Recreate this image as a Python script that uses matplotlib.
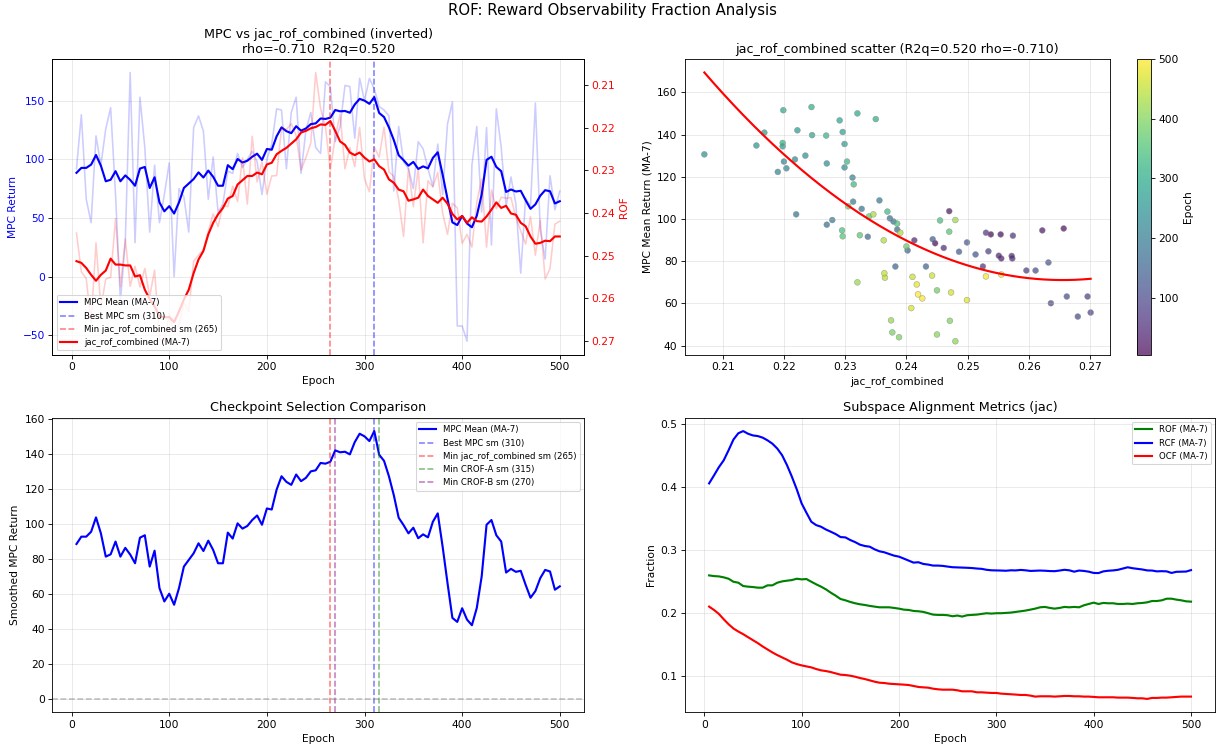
import matplotlib
matplotlib.use('Agg')
import matplotlib.pyplot as plt
import numpy as np

# epochs 5..500 step 5
epochs = list(range(5, 505, 5))

# raw MPC return per epoch
mpc_raw = [92, 138, 66, 46, 120, 95, 126, 144, 70, -21,
           30, 174, 29, 153, 110, 38, 95, 46, 70, 97,
           0, 75, 68, 38, 127, 137, 124, 66, 102, 55,
           62, 90, 88, 105, 93, 100, 107, 98, 70, 100,
           113, 143, 142, 92, 140, 153, 88, 125, 140, 110,
           105, 166, 162, 115, 128, 163, 162, 118, 169, 150,
           169, 160, 145, 142, 137, 73, 128, 98, 92, 75,
           115, 109, 92, 77, 113, 70, 130, 149, -42, -42,
           -55, 95, 128, 55, 127, 27, 143, 110, 60, 85,
           62, 3, 67, 60, 148, 40, 15, 86, 57, 73]

# MPC mean, moving average over 7
mpc_sm = [88.5, 92.7, 92.7, 95.5, 103.7, 94.6, 81.3, 82.6, 89.9, 81.3,
          86.3, 82.5, 77.5, 92.1, 93.5, 75.6, 84.7, 63.3, 55.7, 60.1,
          53.8, 63.3, 75.6, 79.4, 83.2, 88.9, 84.5, 90.4, 85.1, 77.5,
          77.5, 95.0, 91.6, 100.3, 97.3, 98.8, 102.2, 104.8, 99.5, 108.8,
          108.2, 119.6, 127.2, 124.0, 122.3, 128.2, 124.4, 126.3, 130.0, 130.6,
          134.8, 134.4, 135.5, 142.0, 140.9, 141.2, 139.7, 146.7, 151.5, 150.0,
          147.3, 153.0, 139.5, 136.0, 127.2, 116.4, 103.5, 99.3, 94.6, 97.8,
          91.8, 94.0, 92.3, 101.2, 106.0, 87.0, 66.2, 46.3, 44.0, 51.8,
          45.3, 42.1, 52.0, 70.0, 99.5, 102.2, 93.5, 89.9, 72.2, 74.3,
          72.6, 73.2, 65.2, 57.8, 61.6, 69.0, 73.7, 72.8, 62.4, 64.3]

# raw jac_rof_combined per epoch
rof_raw = [0.2447, 0.2538, 0.2554, 0.2657, 0.2470, 0.2622, 0.2555, 0.2551, 0.2413, 0.2573,
           0.2461, 0.2572, 0.2525, 0.2574, 0.2530, 0.2596, 0.2534, 0.2696, 0.2701, 0.2636,
           0.2680, 0.2662, 0.2611, 0.2632, 0.2513, 0.2499, 0.2486, 0.2443, 0.2402, 0.2432,
           0.2382, 0.2385, 0.2337, 0.2373, 0.2270, 0.2379, 0.2220, 0.2327, 0.2279, 0.2356,
           0.2313, 0.2312, 0.2200, 0.2204, 0.2190, 0.2218, 0.2299, 0.2270, 0.2235, 0.2070,
           0.2155, 0.2198, 0.2299, 0.2222, 0.2168, 0.2296, 0.2246, 0.2291, 0.2199, 0.2320,
           0.2350, 0.2245, 0.2269, 0.2198, 0.2303, 0.2314, 0.2369, 0.2455, 0.2295, 0.2385,
           0.2296, 0.2470, 0.2324, 0.2339, 0.2305, 0.2400, 0.2450, 0.2377, 0.2388, 0.2471,
           0.2450, 0.2480, 0.2375, 0.2320, 0.2480, 0.2346, 0.2390, 0.2363, 0.2365, 0.2364,
           0.2410, 0.2442, 0.2473, 0.2408, 0.2499, 0.2417, 0.2555, 0.2530, 0.2426, 0.2419]

# jac_rof_combined MA-7
rof_sm = [0.2513, 0.2517, 0.2529, 0.2545, 0.2559, 0.2545, 0.2535, 0.2507, 0.2521, 0.2521,
          0.2523, 0.2523, 0.2549, 0.2546, 0.2580, 0.2602, 0.2619, 0.2643, 0.2645, 0.2644,
          0.2656, 0.2631, 0.2603, 0.2580, 0.2541, 0.2509, 0.2489, 0.2450, 0.2423, 0.2403,
          0.2388, 0.2366, 0.2360, 0.2333, 0.2323, 0.2313, 0.2313, 0.2305, 0.2309, 0.2286,
          0.2282, 0.2262, 0.2254, 0.2247, 0.2237, 0.2227, 0.2211, 0.2207, 0.2201, 0.2198,
          0.2192, 0.2193, 0.2184, 0.2207, 0.2232, 0.2240, 0.2258, 0.2264, 0.2258, 0.2270,
          0.2279, 0.2274, 0.2290, 0.2298, 0.2321, 0.2329, 0.2345, 0.2349, 0.2371, 0.2368,
          0.2364, 0.2345, 0.2360, 0.2368, 0.2376, 0.2364, 0.2378, 0.2402, 0.2415, 0.2407,
          0.2423, 0.2410, 0.2419, 0.2420, 0.2408, 0.2392, 0.2375, 0.2388, 0.2383, 0.2401,
          0.2404, 0.2423, 0.2431, 0.2455, 0.2472, 0.2470, 0.2465, 0.2466, 0.2455, 0.2455]

# subspace alignment metrics (MA-7)
rof_ma = [0.2591, 0.2580, 0.2575, 0.2560, 0.2538, 0.2490, 0.2475, 0.2422, 0.2412, 0.2406,
          0.2396, 0.2396, 0.2433, 0.2433, 0.2475, 0.2496, 0.2507, 0.2517, 0.2538, 0.2528,
          0.2533, 0.2490, 0.2449, 0.2412, 0.2369, 0.2316, 0.2269, 0.2216, 0.2195, 0.2169,
          0.2148, 0.2132, 0.2121, 0.2106, 0.2095, 0.2084, 0.2084, 0.2084, 0.2074, 0.2063,
          0.2047, 0.2042, 0.2026, 0.2021, 0.2011, 0.1990, 0.1968, 0.1963, 0.1963, 0.1958,
          0.1942, 0.1953, 0.1937, 0.1958, 0.1963, 0.1968, 0.1979, 0.1990, 0.1984, 0.1990,
          0.1990, 0.1995, 0.2000, 0.2011, 0.2021, 0.2032, 0.2047, 0.2063, 0.2084, 0.2090,
          0.2074, 0.2063, 0.2074, 0.2090, 0.2084, 0.2090, 0.2084, 0.2116, 0.2137, 0.2158,
          0.2137, 0.2153, 0.2148, 0.2148, 0.2137, 0.2137, 0.2142, 0.2137, 0.2148, 0.2153,
          0.2163, 0.2184, 0.2184, 0.2195, 0.2221, 0.2221, 0.2206, 0.2195, 0.2179, 0.2174]

rcf_ma = [0.4053, 0.4180, 0.4310, 0.4420, 0.4580, 0.4750, 0.4850, 0.4884, 0.4842, 0.4815,
          0.4805, 0.4780, 0.4737, 0.4684, 0.4607, 0.4500, 0.4343, 0.4160, 0.3960, 0.3736,
          0.3586, 0.3443, 0.3390, 0.3364, 0.3320, 0.3285, 0.3248, 0.3200, 0.3195, 0.3153,
          0.3120, 0.3079, 0.3058, 0.3047, 0.3005, 0.2974, 0.2958, 0.2931, 0.2905, 0.2889,
          0.2858, 0.2826, 0.2794, 0.2800, 0.2773, 0.2763, 0.2747, 0.2747, 0.2742, 0.2731,
          0.2721, 0.2718, 0.2715, 0.2712, 0.2708, 0.2700, 0.2695, 0.2680, 0.2672, 0.2670,
          0.2668, 0.2665, 0.2672, 0.2670, 0.2678, 0.2672, 0.2662, 0.2665, 0.2668, 0.2665,
          0.2660, 0.2658, 0.2668, 0.2680, 0.2672, 0.2650, 0.2668, 0.2662, 0.2650, 0.2630,
          0.2628, 0.2655, 0.2665, 0.2670, 0.2680, 0.2700, 0.2720, 0.2705, 0.2695, 0.2685,
          0.2670, 0.2668, 0.2655, 0.2658, 0.2655, 0.2630, 0.2648, 0.2650, 0.2652, 0.2675]

ocf_ma = [0.2095, 0.2042, 0.1979, 0.1894, 0.1815, 0.1747, 0.1699, 0.1657, 0.1609, 0.1562,
          0.1515, 0.1462, 0.1414, 0.1367, 0.1325, 0.1288, 0.1251, 0.1209, 0.1182, 0.1161,
          0.1145, 0.1129, 0.1103, 0.1082, 0.1071, 0.1055, 0.1034, 0.1013, 0.1008, 0.0997,
          0.0981, 0.0960, 0.0944, 0.0923, 0.0902, 0.0886, 0.0881, 0.0870, 0.0865, 0.0860,
          0.0855, 0.0849, 0.0834, 0.0818, 0.0812, 0.0807, 0.0791, 0.0781, 0.0775, 0.0775,
          0.0775, 0.0765, 0.0749, 0.0749, 0.0749, 0.0733, 0.0733, 0.0728, 0.0723, 0.0723,
          0.0712, 0.0707, 0.0702, 0.0697, 0.0691, 0.0691, 0.0681, 0.0665, 0.0670, 0.0670,
          0.0670, 0.0665, 0.0670, 0.0675, 0.0675, 0.0670, 0.0670, 0.0665, 0.0665, 0.0660,
          0.0654, 0.0654, 0.0654, 0.0654, 0.0649, 0.0649, 0.0649, 0.0644, 0.0638, 0.0638,
          0.0628, 0.0644, 0.0644, 0.0649, 0.0649, 0.0654, 0.0660, 0.0665, 0.0665, 0.0665]

best_mpc = 310
min_rof = 265
min_crof_a = 315
min_crof_b = 270
rho = -0.710
r2q = 0.520

# 16 x 9.81 in figure, shrunk to 1225x751 px
DPI = 76.5625
fig = plt.figure(figsize=(16, 9.809), dpi=DPI)
fig.suptitle("ROF: Reward Observability Fraction Analysis", fontsize=14, y=0.996)

ax1 = fig.add_axes([0.0427, 0.5277, 0.434, 0.3937])
ax_sc = fig.add_axes([0.5592, 0.5277, 0.3469, 0.3937])
cax = fig.add_axes([0.9279, 0.5277, 0.0117, 0.3937])
ax3 = fig.add_axes([0.0427, 0.0515, 0.434, 0.3923])
ax4 = fig.add_axes([0.5592, 0.0515, 0.4327, 0.3923])

# --- top left: MPC vs ROF (inverted)
ax1.plot(epochs, mpc_raw, color="blue", alpha=0.2, lw=1.5)
l1, = ax1.plot(epochs, mpc_sm, color="blue", lw=2, label="MPC Mean (MA-7)")
l2 = ax1.axvline(best_mpc, color="blue", ls="--", alpha=0.5, label=f"Best MPC sm ({best_mpc})")
l3 = ax1.axvline(min_rof, color="red", ls="--", alpha=0.5, label=f"Min jac_rof_combined sm ({min_rof})")
ax1.set_ylabel("MPC Return", color="blue")
ax1.tick_params(axis="y", labelcolor="blue")
ax1.set_xlabel("Epoch")
ax1.grid(True, alpha=0.3)

ax2 = ax1.twinx()
ax2.plot(epochs, rof_raw, color="red", alpha=0.2, lw=1.5)
l4, = ax2.plot(epochs, rof_sm, color="red", lw=2, label="jac_rof_combined (MA-7)")
ax2.invert_yaxis()
ax2.set_ylabel("ROF", color="red")
ax2.tick_params(axis="y", labelcolor="red")
ax2.legend([l1, l2, l3, l4], [h.get_label() for h in [l1, l2, l3, l4]], loc="lower left", fontsize=8)
ax1.set_title(f"MPC vs jac_rof_combined (inverted)\nrho={rho:.3f}  R2q={r2q:.3f}")

# --- top right: scatter
sc = ax_sc.scatter(rof_raw, mpc_sm, c=epochs, cmap="viridis", alpha=0.7, s=30,
                   edgecolors="gray", linewidths=0.5)
coef = np.polyfit(rof_raw, mpc_sm, 2)
xs = np.linspace(min(rof_raw), max(rof_raw), 200)
ax_sc.plot(xs, np.polyval(coef, xs), color="red", lw=2)
ax_sc.set_xlabel("jac_rof_combined")
ax_sc.set_ylabel("MPC Mean Return (MA-7)")
ax_sc.set_title(f"jac_rof_combined scatter (R2q={r2q:.3f} rho={rho:.3f})")
ax_sc.grid(True, alpha=0.3)
cb = fig.colorbar(sc, cax=cax)
cb.set_label("Epoch")

# --- bottom left: checkpoint selection
ax3.plot(epochs, mpc_sm, color="blue", lw=2, label="MPC Mean (MA-7)")
ax3.axvline(best_mpc, color="blue", ls="--", alpha=0.5, label=f"Best MPC sm ({best_mpc})")
ax3.axvline(min_rof, color="red", ls="--", alpha=0.5, label=f"Min jac_rof_combined sm ({min_rof})")
ax3.axvline(min_crof_a, color="green", ls="--", alpha=0.5, label=f"Min CROF-A sm ({min_crof_a})")
ax3.axvline(min_crof_b, color="purple", ls="--", alpha=0.5, label=f"Min CROF-B sm ({min_crof_b})")
ax3.axhline(0, color="gray", ls="--", alpha=0.5)
ax3.set_xlabel("Epoch")
ax3.set_ylabel("Smoothed MPC Return")
ax3.set_title("Checkpoint Selection Comparison")
ax3.legend(loc="upper right", fontsize=8)
ax3.grid(True, alpha=0.3)

# --- bottom right: subspace metrics
ax4.plot(epochs, rof_ma, color="green", lw=2, label="ROF (MA-7)")
ax4.plot(epochs, rcf_ma, color="blue", lw=2, label="RCF (MA-7)")
ax4.plot(epochs, ocf_ma, color="red", lw=2, label="OCF (MA-7)")
ax4.set_xlabel("Epoch")
ax4.set_ylabel("Fraction")
ax4.set_title("Subspace Alignment Metrics (jac)")
ax4.legend(loc="upper right", fontsize=8)
ax4.grid(True, alpha=0.3)

fig.savefig("out.png", dpi=DPI)
